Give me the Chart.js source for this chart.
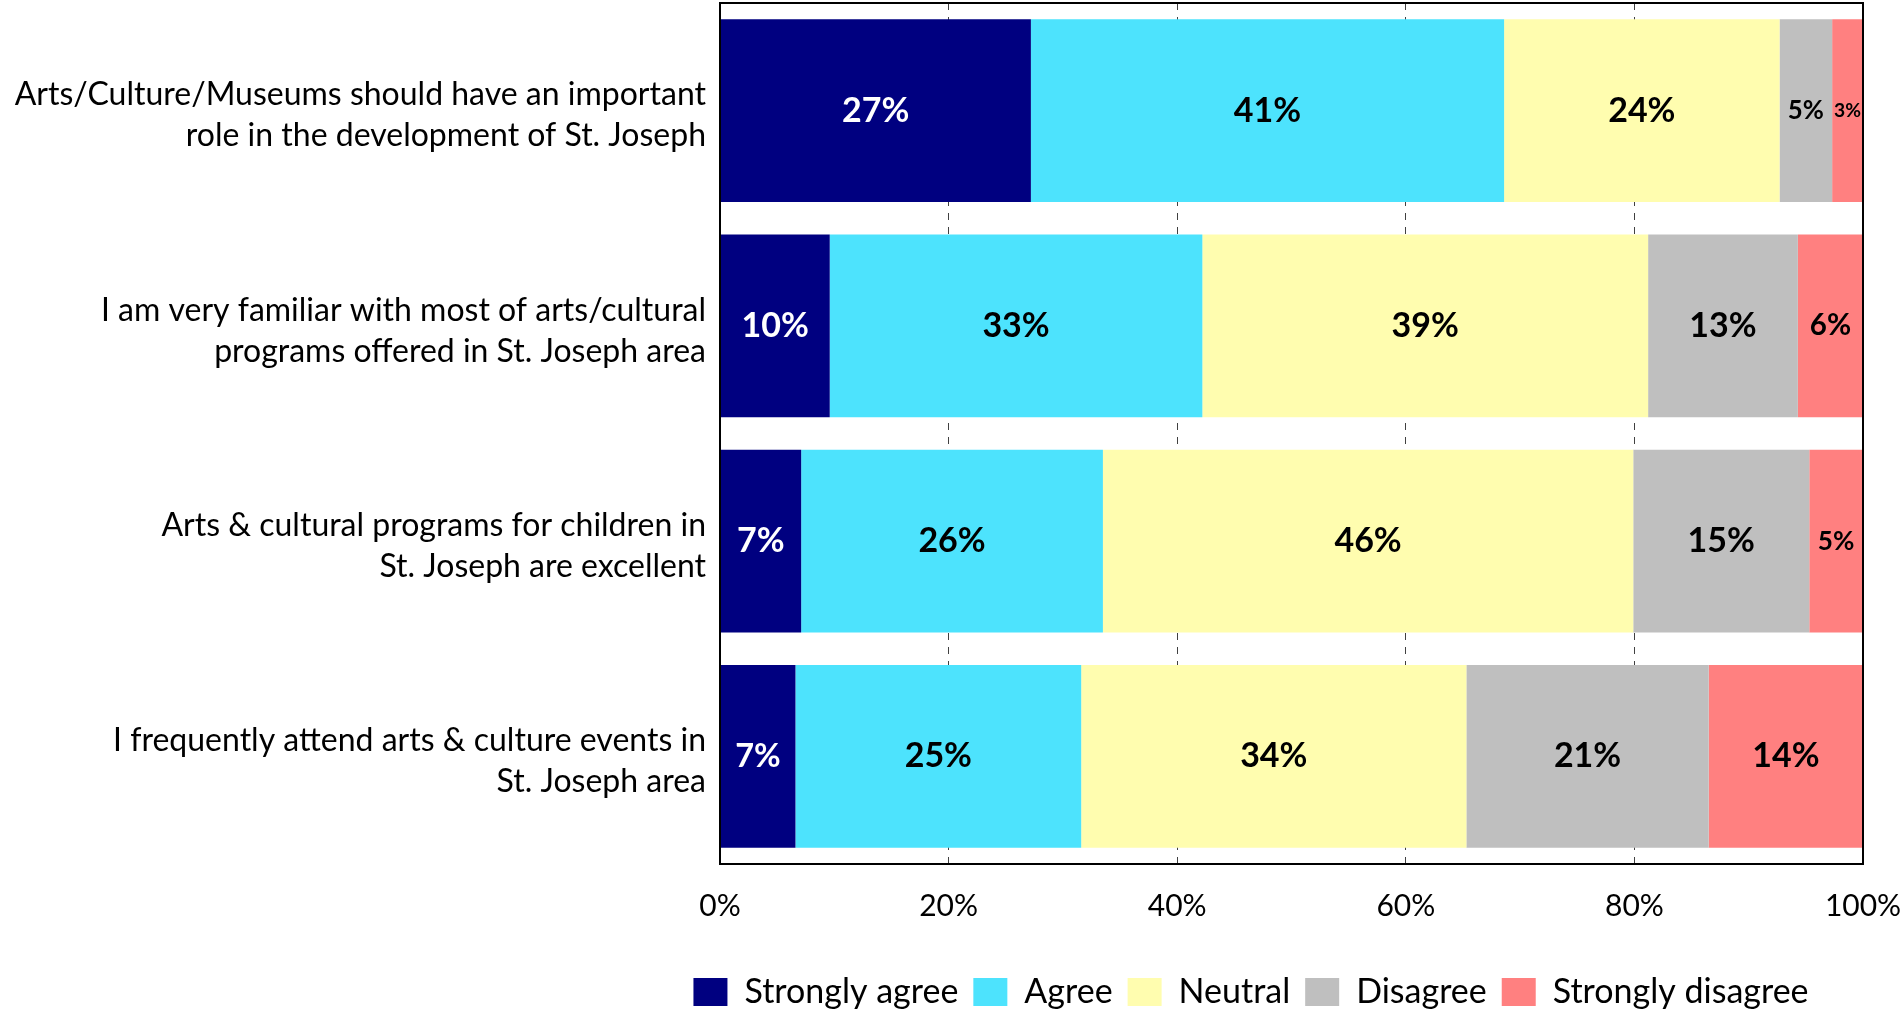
<!DOCTYPE html>
<html>
<head>
<meta charset="utf-8">
<script src="https://cdn.jsdelivr.net/npm/chart.js@4.4.1/dist/chart.umd.min.js"></script>
<style>
    html, body { margin: 0; padding: 0; background: #ffffff; }
    #wrap { position: relative; width: 1902px; height: 1013px; }
</style>
</head>
<body>
<div id="wrap"><canvas id="chart"></canvas></div>
<script>
// Perguntas (eixo Y)
const categories = [
    ["Arts/Culture/Museums should have an important", "role in the development of St. Joseph"],
    ["I am very familiar with most of arts/cultural", "programs offered in St. Joseph area"],
    ["Arts & cultural programs for children in", "St. Joseph are excellent"],
    ["I frequently attend arts & culture events in", "St. Joseph area"]
];

// Respostas em %
const stronglyAgree = [27.2, 9.6, 7.1, 6.6];
const agree = [41.4, 32.6, 26.4, 25.0];
const neutral = [24.1, 39.0, 46.4, 33.7];
const disagree = [4.6, 13.1, 15.4, 21.2];
const stronglyDisagree = [2.7, 5.7, 4.7, 13.5];

const xTicks = [0, 20, 40, 60, 80, 100];

const FONT = "Lato, 'Liberation Sans', sans-serif";

// Rótulos de valor dentro das barras
const barLabels = {
    id: "barLabels",
    afterDatasetsDraw(chart) {
        const ctx = chart.ctx;
        ctx.save();
        ctx.textAlign = "center";
        ctx.textBaseline = "middle";
        chart.data.datasets.forEach((ds, i) => {
            const meta = chart.getDatasetMeta(i);
            meta.data.forEach((bar, j) => {
                const w = Math.abs(bar.x - bar.base);
                const size = Math.min(34, 10 + w * 0.3); // fatias estreitas => fonte menor
                ctx.font = `bold ${size}px ${FONT}`;
                ctx.fillStyle = i === 0 ? "#ffffff" : "#000000";
                ctx.fillText(Math.round(ds.data[j]) + "%", (bar.x + bar.base) / 2, bar.y);
            });
        });
        ctx.restore();
    }
};

// Moldura da área do gráfico + posição da legenda
const frame = {
    id: "frame",
    afterLayout(chart) {
        const lg = chart.legend;
        lg.left = 600;
        lg.right = 1902;
        lg.top = 960;
        lg.bottom = 960 + lg.height;
    },
    afterDraw(chart) {
        const { left, top, right, bottom } = chart.chartArea;
        const ctx = chart.ctx;
        ctx.save();
        ctx.strokeStyle = "#000000";
        ctx.lineWidth = 2;
        ctx.strokeRect(left, top, right - left, bottom - top);
        ctx.restore();
    }
};

new Chart(document.getElementById("chart"), {
    type: "bar",
    data: {
        labels: categories,
        datasets: [
            { label: "Strongly agree", data: stronglyAgree, backgroundColor: "#000080" },
            { label: "Agree", data: agree, backgroundColor: "#4DE3FD" },
            { label: "Neutral", data: neutral, backgroundColor: "#FFFDAF" },
            { label: "Disagree", data: disagree, backgroundColor: "#BFBFBF" },
            { label: "Strongly disagree", data: stronglyDisagree, backgroundColor: "#FF8080" }
        ]
    },
    options: {
        indexAxis: "y",
        responsive: true,
        maintainAspectRatio: false,
        animation: false,
        categoryPercentage: 1,
        barPercentage: 0.85,
        layout: { padding: { top: 3, left: 0, right: 0, bottom: 6 } },
        scales: {
            x: {
                stacked: true,
                min: 0,
                max: 100,
                afterBuildTicks: scale => { scale.ticks = xTicks.map(v => ({ value: v })); },
                afterFit: scale => { scale.paddingLeft = 0; scale.paddingRight = 39; },
                grid: {
                    drawTicks: false,
                    color: "#404040",
                    lineWidth: 1
                },
                border: { display: true, color: "#000000", width: 2, dash: [7, 7] },
                ticks: {
                    padding: 24,
                    color: "#000000",
                    font: { family: FONT, size: 30 },
                    callback: v => v + "%"
                }
            },
            y: {
                stacked: true,
                afterFit: scale => {
                    scale.width = 720;
                    scale.paddingTop = 0;
                    scale.paddingBottom = 0;
                },
                border: { display: true, color: "#000000", width: 2 },
                grid: { display: false, drawTicks: false },
                ticks: {
                    padding: 14,
                    labelOffset: 5,
                    color: "#000000",
                    font: { family: FONT, size: 32, lineHeight: 1.28 }
                }
            }
        },
        plugins: {
            legend: {
                position: "bottom",
                labels: {
                    boxWidth: 34,
                    boxHeight: 28,
                    padding: 15,
                    color: "#000000",
                    font: { family: FONT, size: 34 }
                }
            },
            tooltip: { enabled: false }
        }
    },
    plugins: [barLabels, frame]
});
</script>
</body>
</html>
